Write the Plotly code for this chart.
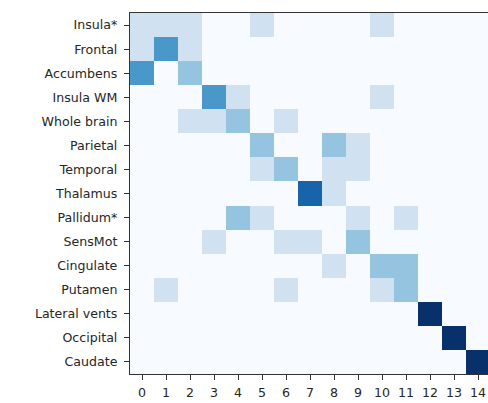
import plotly.graph_objects as go

regions = ["Insula*", "Frontal", "Accumbens", "Insula WM", "Whole brain", "Parietal",
           "Temporal", "Thalamus", "Pallidum*", "SensMot", "Cingulate", "Putamen",
           "Lateral vents", "Occipital", "Caudate"]
clusters = list(range(15))

counts = [
    [1, 1, 1, 0, 0, 1, 0, 0, 0, 0, 1, 0, 0, 0, 0],
    [1, 3, 1, 0, 0, 0, 0, 0, 0, 0, 0, 0, 0, 0, 0],
    [3, 0, 2, 0, 0, 0, 0, 0, 0, 0, 0, 0, 0, 0, 0],
    [0, 0, 0, 3, 1, 0, 0, 0, 0, 0, 1, 0, 0, 0, 0],
    [0, 0, 1, 1, 2, 0, 1, 0, 0, 0, 0, 0, 0, 0, 0],
    [0, 0, 0, 0, 0, 2, 0, 0, 2, 1, 0, 0, 0, 0, 0],
    [0, 0, 0, 0, 0, 1, 2, 0, 1, 1, 0, 0, 0, 0, 0],
    [0, 0, 0, 0, 0, 0, 0, 4, 1, 0, 0, 0, 0, 0, 0],
    [0, 0, 0, 0, 2, 1, 0, 0, 0, 1, 0, 1, 0, 0, 0],
    [0, 0, 0, 1, 0, 0, 1, 1, 0, 2, 0, 0, 0, 0, 0],
    [0, 0, 0, 0, 0, 0, 0, 0, 1, 0, 2, 2, 0, 0, 0],
    [0, 1, 0, 0, 0, 0, 1, 0, 0, 0, 1, 2, 0, 0, 0],
    [0, 0, 0, 0, 0, 0, 0, 0, 0, 0, 0, 0, 5, 0, 0],
    [0, 0, 0, 0, 0, 0, 0, 0, 0, 0, 0, 0, 0, 5, 0],
    [0, 0, 0, 0, 0, 0, 0, 0, 0, 0, 0, 0, 0, 0, 5],
]

blues = ["#f7fbff", "#deebf7", "#c6dbef", "#9ecae1", "#6baed6",
         "#4292c6", "#2171b5", "#08519c", "#08306b"]
colorscale = [[i / 8, c] for i, c in enumerate(blues)]

fig = go.Figure(go.Heatmap(
    z=counts, x=clusters, y=list(range(len(regions))),
    colorscale=colorscale, zmin=0, zmax=5, showscale=False,
    xgap=0, ygap=0,
))

font = dict(family="DejaVu Sans", size=12.6, color="#262626")
fig.update_layout(
    width=488, height=403,
    margin=dict(l=130, r=0, t=13, b=29),
    paper_bgcolor="white", plot_bgcolor="white",
    font=font,
    xaxis=dict(
        range=[-0.5, 14.5 - 2 / 24], tickmode="array", tickvals=clusters,
        ticktext=[str(c) for c in clusters],
        ticks="outside", ticklen=5, tickwidth=1, tickcolor="#333",
        showline=True, linecolor="#333", linewidth=1.2, mirror=True,
        showgrid=False, zeroline=False, tickfont=font, ticklabelstandoff=2,
    ),
    yaxis=dict(
        range=[14.5, -0.5], tickmode="array", tickvals=list(range(len(regions))),
        ticktext=regions,
        ticks="outside", ticklen=5, tickwidth=1, tickcolor="#333",
        showline=True, linecolor="#333", linewidth=1.2, mirror=False,
        showgrid=False, zeroline=False, tickfont=font, ticklabelstandoff=4,
    ),
)

fig.write_html("out.html")
